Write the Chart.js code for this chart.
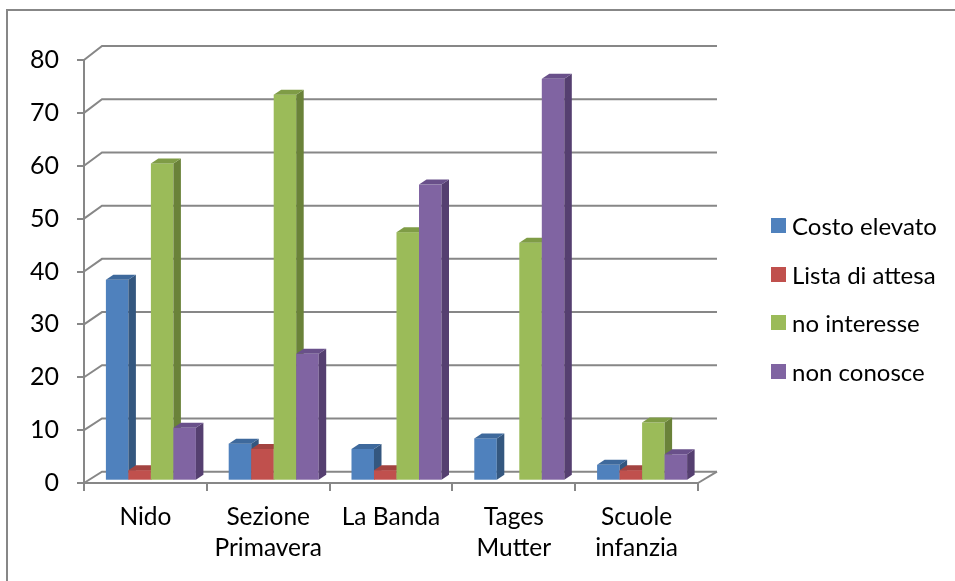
<!DOCTYPE html>
<html>
<head>
<meta charset="utf-8">
<script src="https://cdn.jsdelivr.net/npm/chart.js@4/dist/chart.umd.min.js"></script>
<style>
  html, body { margin: 0; padding: 0; background: #fff; overflow: hidden; }
  #wrap { position: relative; width: 955px; height: 581px; }
  #frame { position: absolute; left: 6px; top: 9px; width: 1000px; height: 1000px; border: 2px solid #878787; }
  #chart { position: absolute; left: 0; top: 0; }
  #legend { position: absolute; left: 771px; top: 201px; font-family: Lato, sans-serif; font-size: 24px; color: #000; }
  #legend div { height: 48.7px; display: flex; align-items: center; white-space: nowrap; }
  #legend span.box { display: inline-block; width: 15px; height: 15px; margin-right: 6px; flex: none; }
</style>
</head>
<body>
<div id="wrap">
  <div id="frame"></div>
  <canvas id="chart" width="955" height="581"></canvas>
  <div id="legend"></div>
</div>
<script>
const categories = [["Nido"], ["Sezione", "Primavera"], ["La Banda"], ["Tages", "Mutter"], ["Scuole", "infanzia"]];
const seriesNames = ["Costo elevato", "Lista di attesa", "no interesse", "non conosce"];
const costoElevato = [38, 7, 6, 8, 3];
const listaAttesa = [2, 6, 2, 0, 2];
const noInteresse = [60, 73, 47, 45, 11];
const nonConosce = [10, 24, 56, 76, 5];
const yTicks = [0, 10, 20, 30, 40, 50, 60, 70, 80];

const frontColors = ["#4F81BD", "#C0504D", "#9BBB59", "#8064A2"];
const sideColors = ["#34577F", "#8A3836", "#6A8239", "#553F70"];
const capColors = ["#3E699C", "#A34340", "#7F9C46", "#69508A"];

const gridGrey = "#878787";
const depthX = 18, depthY = 11.3, depthPersp = 2.7;   // back wall offset
const barShiftX = 5.5, barShiftY = -2.3;              // bars sit a bit into the depth
const barDx = 7.5, barDy = 5;                         // bar side / top thickness

const legendEl = document.getElementById("legend");
seriesNames.forEach((name, i) => {
  legendEl.innerHTML += `<div><span class="box" style="background:${frontColors[i]}"></span>${name}</div>`;
});

const wall3d = {
  id: "wall3d",
  beforeDatasetsDraw(chart) {
    const { ctx, chartArea } = chart;
    const y = chart.scales.y;
    const backRight = chartArea.right + depthX + 1;
    ctx.save();
    ctx.strokeStyle = gridGrey;
    ctx.lineWidth = 2;
    yTicks.forEach((v) => {
      const fy = y.getPixelForValue(v);
      const by = fy - depthY - (chartArea.bottom - fy) / (chartArea.bottom - chartArea.top) * depthPersp;
      ctx.beginPath();
      ctx.moveTo(chartArea.left, fy);
      ctx.lineTo(chartArea.left + depthX, by);
      ctx.lineTo(backRight, by);
      ctx.stroke();
    });
    // right edge of the floor
    ctx.beginPath();
    ctx.moveTo(chartArea.right, chartArea.bottom);
    ctx.lineTo(backRight, chartArea.bottom - depthY);
    ctx.stroke();
    ctx.restore();
  },
  beforeDatasetDraw() {
    return false;
  },
  afterDatasetsDraw(chart) {
    const { ctx } = chart;
    const metas = chart.data.datasets.map((_, i) => chart.getDatasetMeta(i));
    ctx.save();
    ctx.translate(barShiftX, barShiftY);
    categories.forEach((_, j) => {
      metas.forEach((meta, i) => {
        const bar = meta.data[j];
        const value = chart.data.datasets[i].data[j];
        if (!bar || value <= 0) return;
        const { x, y, base, width } = bar.getProps(["x", "y", "base", "width"], true);
        const l = x - width / 2, r = x + width / 2;
        ctx.fillStyle = frontColors[i];
        ctx.fillRect(l, y, width, base - y);
        ctx.fillStyle = sideColors[i];
        ctx.beginPath();
        ctx.moveTo(r, y);
        ctx.lineTo(r + barDx, y - barDy);
        ctx.lineTo(r + barDx, base - barDy);
        ctx.lineTo(r, base);
        ctx.closePath();
        ctx.fill();
        ctx.fillStyle = capColors[i];
        ctx.beginPath();
        ctx.moveTo(l, y);
        ctx.lineTo(l + barDx, y - barDy);
        ctx.lineTo(r + barDx, y - barDy);
        ctx.lineTo(r, y);
        ctx.closePath();
        ctx.fill();
      });
    });
    ctx.restore();
  },
};

const seriesData = [costoElevato, listaAttesa, noInteresse, nonConosce];

new Chart(document.getElementById("chart"), {
  type: "bar",
  plugins: [wall3d],
  data: {
    labels: categories,
    datasets: seriesNames.map((name, i) => ({
      label: name,
      data: seriesData[i],
      backgroundColor: frontColors[i],
      categoryPercentage: 0.733,
      barPercentage: 1,
    })),
  },
  options: {
    responsive: false,
    animation: false,
    layout: { padding: { top: 60, right: 257, left: 0, bottom: 0 } },
    plugins: {
      legend: { display: false },
      tooltip: { enabled: false },
    },
    scales: {
      x: {
        afterFit: (scale) => { scale.height = 98; },
        grid: { offset: true, drawOnChartArea: false, tickLength: 8, color: gridGrey, lineWidth: 2 },
        border: { color: gridGrey, width: 2 },
        ticks: { color: "#000", padding: 11, font: { family: "Lato", size: 24.5, lineHeight: "31px" } },
      },
      y: {
        min: 0,
        max: 80,
        afterFit: (scale) => { scale.width = 84; },
        afterBuildTicks: (scale) => { scale.ticks = yTicks.map((v) => ({ value: v })); },
        grid: { drawOnChartArea: false, tickLength: 7, color: gridGrey, lineWidth: 2 },
        border: { color: gridGrey, width: 2 },
        ticks: { color: "#000", padding: 18, font: { family: "Lato", size: 25 } },
      },
    },
  },
});
</script>
</body>
</html>
